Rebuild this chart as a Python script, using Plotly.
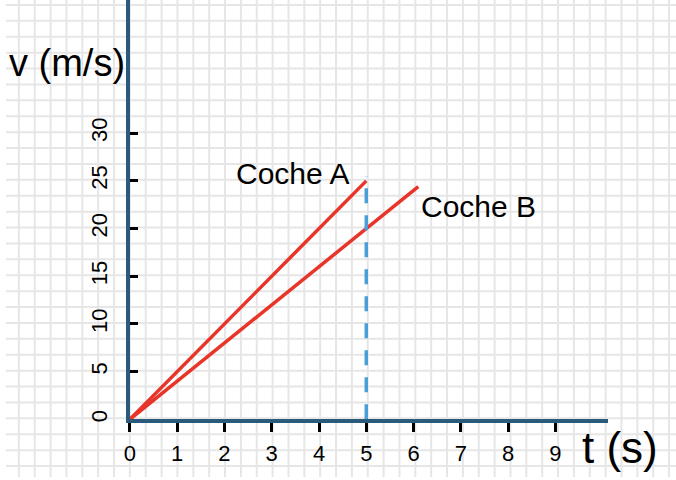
import plotly.graph_objects as go

# Data
t_A = [0, 5]
v_A = [0, 25]
t_B = [0, 6.1]
v_B = [0, 24.4]
t_dash = [5, 5]
v_dash = [0, 25.5]
x_ticks = [0, 1, 2, 3, 4, 5, 6, 7, 8, 9]
y_ticks = [0, 5, 10, 15, 20, 25, 30]

W, H = 676, 480
FONT = "Liberation Sans, Arial, sans-serif"
AXC = "#2c5a7c"
RED = "#e8352a"
BLUE = "#4a9fd8"
GRIDC = "#e6e6e6"

# background squared-paper grid (pixel-space subplot)
gx, gy = [], []
for gxv in range(13, W + 1, 16):
    gx += [gxv, gxv, None]
    gy += [0, H, None]
for gyv in range(5, H + 1, 16):
    gx += [0, W, None]
    gy += [gyv, gyv, None]

fig = go.Figure()
fig.add_trace(go.Scatter(x=gx, y=gy, xaxis="x", yaxis="y", mode="lines",
                         line=dict(color=GRIDC, width=2), hoverinfo="skip",
                         showlegend=False, cliponaxis=True))

fig.add_trace(go.Scatter(x=t_A, y=v_A, xaxis="x2", yaxis="y2", mode="lines",
                         line=dict(color=RED, width=3.5), cliponaxis=False, showlegend=False))
fig.add_trace(go.Scatter(x=t_B, y=v_B, xaxis="x2", yaxis="y2", mode="lines",
                         line=dict(color=RED, width=3.5), cliponaxis=False, showlegend=False))
fig.add_trace(go.Scatter(x=t_dash, y=v_dash, xaxis="x2", yaxis="y2", mode="lines",
                         line=dict(color=BLUE, width=3.5, dash="15px,12px"), cliponaxis=False, showlegend=False))

x0px, xendpx = 125, 607
y0px = 422
xscale = 47.7
yscale = 9.6

fig.update_layout(
    width=W, height=H,
    margin=dict(l=0, r=0, t=0, b=0),
    paper_bgcolor="white", plot_bgcolor="rgba(0,0,0,0)",
    showlegend=False,
    xaxis=dict(domain=[0, 1], range=[0, W], visible=False, fixedrange=True),
    yaxis=dict(domain=[0, 1], range=[H, 0], visible=False, fixedrange=True),
    xaxis2=dict(domain=[x0px / W, xendpx / W], anchor="y2",
                range=[0, (xendpx - x0px) / xscale],
                showgrid=False, zeroline=False, showline=True, linecolor=AXC, linewidth=4,
                tickvals=x_ticks, ticktext=[str(v) for v in x_ticks],
                ticks="outside", ticklen=9, tickwidth=3, tickcolor="black",
                tickfont=dict(family=FONT, size=22, color="black"), ticklabelstandoff=2),
    yaxis2=dict(domain=[(H - y0px) / H, 1], anchor="x2",
                range=[0, y0px / yscale],
                showgrid=False, zeroline=False, showline=True, linecolor=AXC, linewidth=4,
                tickvals=y_ticks, ticktext=[str(v) for v in y_ticks],
                ticks="inside", ticklen=8, tickwidth=3, tickcolor="black", tickangle=-90,
                tickfont=dict(family=FONT, size=22, color="black"), ticklabelstandoff=10),
    annotations=[
        dict(text="v (m/s)", xref="paper", yref="paper", x=62 / W, y=1 - 63 / H,
             showarrow=False, font=dict(family=FONT, size=38, color="black"),
             xanchor="center", yanchor="middle"),
        dict(text="t (s)", xref="paper", yref="paper", x=619 / W, y=1 - 450 / H,
             showarrow=False, font=dict(family=FONT, size=44, color="black"),
             xanchor="center", yanchor="middle"),
        dict(text="Coche A", xref="x2", yref="y2", x=3.44, y=25.8,
             showarrow=False, font=dict(family=FONT, size=30, color="black"),
             xanchor="center", yanchor="middle"),
        dict(text="Coche B", xref="x2", yref="y2", x=7.38, y=22.3,
             showarrow=False, font=dict(family=FONT, size=30, color="black"),
             xanchor="center", yanchor="middle"),
    ],
)

fig.write_html("out.html")
